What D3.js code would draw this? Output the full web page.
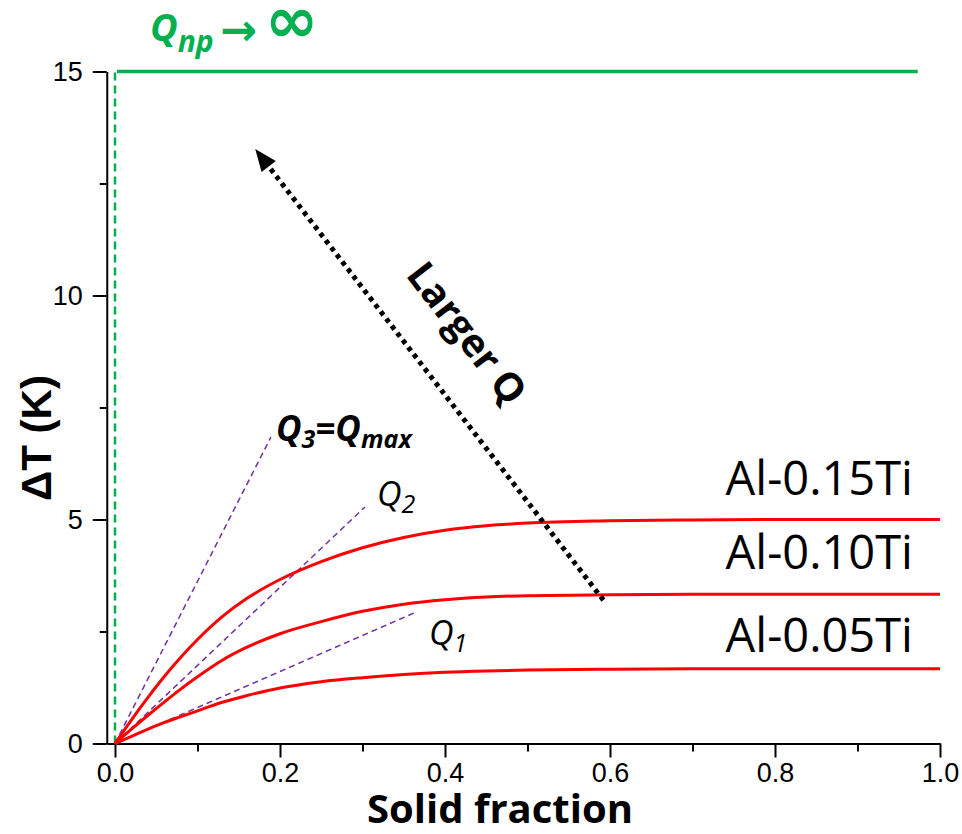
<!DOCTYPE html>
<html>
<head>
<meta charset="utf-8">
<script src="https://cdn.jsdelivr.net/npm/d3@7"></script>
<style>
  body { margin: 0; background: #fff; }
  svg { display: block; }
</style>
</head>
<body>
<div id="chart"></div>
<script>
// Data
var fracX = [0, 0.02, 0.04, 0.06, 0.08, 0.1, 0.13, 0.16, 0.2, 0.25, 0.3, 0.35, 0.4, 0.45, 0.5, 0.6, 0.7, 0.8, 1.0];
var dT015 = [0, 0.53, 1.03, 1.5, 1.93, 2.32, 2.83, 3.24, 3.66, 4.06, 4.37, 4.6, 4.76, 4.86, 4.92, 4.97, 4.99, 5.0, 5.0];
var dT010 = [0, 0.32, 0.63, 0.93, 1.22, 1.49, 1.86, 2.15, 2.45, 2.72, 2.95, 3.11, 3.21, 3.27, 3.3, 3.32, 3.33, 3.33, 3.33];
var dT005 = [0, 0.16, 0.32, 0.47, 0.6, 0.73, 0.92, 1.07, 1.24, 1.38, 1.47, 1.54, 1.59, 1.62, 1.64, 1.66, 1.67, 1.67, 1.67];
var alloyNames = ["Al-0.15Ti", "Al-0.10Ti", "Al-0.05Ti"];

// tangent (Q) lines, from origin to these ends
var qNames = ["1", "2", "3"];
var qEndX = [0.366, 0.303, 0.189];
var qEndY = [2.94, 5.28, 6.84];

// Q_np -> infinity limit
var limitY = 15;
var limitEndX = 0.973;

// "Larger Q" arrow, start and tip
var arrowX = [0.592, 0.170];
var arrowY = [3.2, 13.27];

var xMajor = [0, 0.2, 0.4, 0.6, 0.8, 1.0];
var xMinor = [0.1, 0.3, 0.5, 0.7, 0.9];
var yMajor = [0, 5, 10, 15];
var yMinor = [2.5, 7.5, 12.5];

// Chart setup
var svgWidth = 962;
var svgHeight = 834;

var svg = d3.select("#chart")
  .append("svg")
  .attr("width", svgWidth)
  .attr("height", svgHeight);

var x = d3.scaleLinear().domain([-0.01, 1.0]).range([106.75, 940]);
var y = d3.scaleLinear().domain([0, 15]).range([743.5, 71.5]);

var green = "#00b050";
var red = "#ff0000";
var purple = "#7030a0";
var tickFont = "'Liberation Sans', Arial, sans-serif";
var textFont = "'Open Sans', sans-serif";

// axes
svg.append("g")
  .attr("transform", `translate(0, ${y(0)})`)
  .call(d3.axisBottom(x).tickValues(xMajor).tickFormat(d3.format(".1f"))
    .tickSize(14).tickSizeOuter(0).tickPadding(5));
svg.append("g")
  .attr("transform", `translate(0, ${y(0)})`)
  .call(d3.axisBottom(x).tickValues(xMinor).tickFormat("").tickSize(8))
  .select(".domain").remove();

svg.append("g")
  .attr("transform", `translate(${x(-0.01)}, 0)`)
  .call(d3.axisLeft(y).tickValues(yMajor).tickSize(14).tickSizeOuter(0).tickPadding(10));
svg.append("g")
  .attr("transform", `translate(${x(-0.01)}, 0)`)
  .call(d3.axisLeft(y).tickValues(yMinor).tickFormat("").tickSize(7))
  .select(".domain").remove();

svg.selectAll(".domain, .tick line")
  .attr("stroke", "#000")
  .attr("stroke-width", 2);
svg.selectAll(".tick text")
  .attr("fill", "#000")
  .style("font-family", tickFont)
  .style("font-size", "27px");

// axis titles
svg.append("text")
  .attr("x", 500)
  .attr("y", 823)
  .attr("text-anchor", "middle")
  .style("font-family", textFont)
  .style("font-weight", "bold")
  .style("font-size", "40px")
  .text("Solid fraction");

svg.append("text")
  .attr("transform", "translate(51, 438) rotate(-90)")
  .attr("text-anchor", "middle")
  .style("font-family", tickFont)
  .style("font-weight", "bold")
  .style("font-size", "42px")
  .text("ΔT (K)");

// Q_np limit lines
svg.append("line")
  .attr("x1", x(0)).attr("x2", x(0))
  .attr("y1", y(0)).attr("y2", y(limitY))
  .attr("stroke", green)
  .attr("stroke-width", 2.5)
  .attr("stroke-dasharray", "8,5");
svg.append("line")
  .attr("x1", x(0) + 2).attr("x2", x(limitEndX))
  .attr("y1", y(limitY)).attr("y2", y(limitY))
  .attr("stroke", green)
  .attr("stroke-width", 3.5);

var qnp = svg.append("text")
  .attr("fill", green)
  .style("font-family", textFont)
  .style("font-weight", "bold");
qnp.append("tspan").attr("x", 150).attr("y", 41)
  .style("font-style", "italic").style("font-size", "38px").text("Q");
qnp.append("tspan").attr("dy", 11)
  .style("font-style", "italic").style("font-size", "30px").text("np");
qnp.append("tspan").attr("x", 220).attr("y", 45)
  .style("font-family", "'DejaVu Sans', sans-serif")
  .style("font-size", "44px").text("→");
qnp.append("tspan").attr("x", 265).attr("y", 42)
  .style("font-family", "'DejaVu Sans', sans-serif")
  .style("font-size", "64px").text("∞");

// tangent lines
qNames.forEach(function(q, i) {
  svg.append("line")
    .attr("x1", x(0)).attr("y1", y(0))
    .attr("x2", x(qEndX[i])).attr("y2", y(qEndY[i]))
    .attr("stroke", purple)
    .attr("stroke-width", 1.5)
    .attr("stroke-dasharray", "6,4");
});

// solidification curves
var line = d3.line()
  .x(d => x(d[0]))
  .y(d => y(d[1]))
  .curve(d3.curveMonotoneX);

[dT015, dT010, dT005].forEach(function(series) {
  svg.append("path")
    .datum(fracX.map((f, i) => [f, series[i]]))
    .attr("d", line)
    .attr("fill", "none")
    .attr("stroke", red)
    .attr("stroke-width", 3);
});

// alloy labels
var labelDy = [-25, -25, -17];
[dT015, dT010, dT005].forEach(function(series, i) {
  svg.append("text")
    .attr("x", 913)
    .attr("y", y(series[series.length - 1]) + labelDy[i])
    .attr("text-anchor", "end")
    .style("font-family", textFont)
    .style("font-size", "47px")
    .text(alloyNames[i]);
});

// Q labels
var q3 = svg.append("text")
  .attr("x", 276).attr("y", 441)
  .style("font-family", textFont)
  .style("font-weight", "bold")
  .style("font-style", "italic")
  .style("font-size", "35px");
q3.append("tspan").text("Q");
q3.append("tspan").attr("dy", 7).style("font-size", "25px").text("3");
q3.append("tspan").attr("dy", -7).text("=Q");
q3.append("tspan").attr("dy", 7).style("font-size", "25px").text("max");

var q2 = svg.append("text")
  .attr("x", 377).attr("y", 506)
  .style("font-family", textFont)
  .style("font-style", "italic")
  .style("font-size", "34px");
q2.append("tspan").text("Q");
q2.append("tspan").attr("dy", 7).style("font-size", "25px").text("2");

var q1 = svg.append("text")
  .attr("x", 429).attr("y", 645)
  .style("font-family", textFont)
  .style("font-style", "italic")
  .style("font-size", "34px");
q1.append("tspan").text("Q");
q1.append("tspan").attr("dy", 7).style("font-size", "25px").text("1");

// "Larger Q" arrow
var ax0 = x(arrowX[0]), ay0 = y(arrowY[0]);
var ax1 = x(arrowX[1]), ay1 = y(arrowY[1]);
var ang = Math.atan2(ay1 - ay0, ax1 - ax0);
var headLen = 22, headW = 9;
var bx = ax1 - headLen * Math.cos(ang), by = ay1 - headLen * Math.sin(ang);

svg.append("line")
  .attr("x1", ax0).attr("y1", ay0)
  .attr("x2", bx).attr("y2", by)
  .attr("stroke", "#000")
  .attr("stroke-width", 5)
  .attr("stroke-dasharray", "4.5,4.5");
svg.append("path")
  .attr("d", `M${ax1},${ay1} L${bx + headW * Math.sin(ang)},${by - headW * Math.cos(ang)} L${bx - headW * Math.sin(ang)},${by + headW * Math.cos(ang)} Z`)
  .attr("fill", "#000");

svg.append("text")
  .attr("transform", `translate(467, 333) rotate(${Math.atan2(ay0 - ay1, ax0 - ax1) * 180 / Math.PI})`)
  .attr("text-anchor", "middle")
  .attr("dy", "0.35em")
  .style("font-family", textFont)
  .style("font-weight", "bold")
  .style("font-size", "39px")
  .text("Larger Q");
</script>
</body>
</html>
